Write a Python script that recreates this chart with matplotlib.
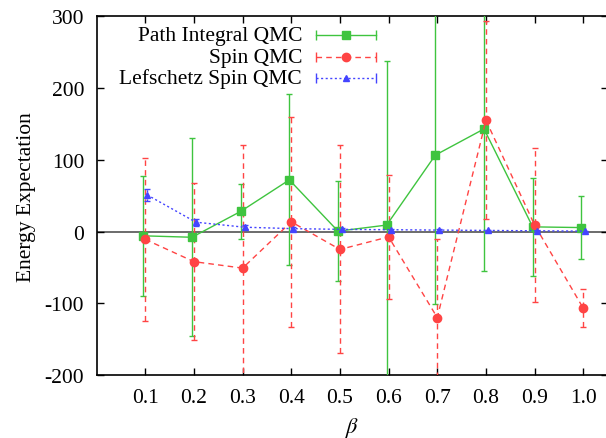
import matplotlib
matplotlib.use('Agg')
import matplotlib.pyplot as plt
from matplotlib.lines import Line2D

plt.rcParams['font.family'] = 'serif'
plt.rcParams['font.serif'] = ['Liberation Serif', 'DejaVu Serif']
plt.rcParams['mathtext.fontset'] = 'stix'
plt.rcParams['axes.unicode_minus'] = False

beta = [0.1, 0.2, 0.3, 0.4, 0.5, 0.6, 0.7, 0.8, 0.9, 1.0]

path_val = [-6, -8, 28, 72, 0.5, 9, 106.5, 143, 6.5, 5.5]
path_err = [84, 138, 38, 119, 70, 229, 207.5, 198, 68, 44]

spin_val = [-11, -42, -51, 13.5, -25, -7.5, -120, 155, 9, -107]
spin_err = [114, 109, 172, 146, 145, 86, 110, 138, 107, 26.5]

lef_val = [51, 13, 6, 4, 3, 2.5, 2, 1.5, 1, 0.5]
lef_err = [8, 5, 3, 2, 1.5, 1.2, 1, 1, 0.8, 0.5]

labels = ['Path Integral QMC', 'Spin QMC', 'Lefschetz Spin QMC']
green = '#3fc43f'
red = '#ff4444'
blue = '#4444ff'

fig = plt.figure(figsize=(6.06, 4.39), dpi=100)
ax = fig.add_axes([0.1594, 0.1435, 0.8433, 0.8171])

ax.axhline(0, color='#606060', lw=1.3, zorder=1)

series = [
    (path_val, path_err, -0.004, green, 's', 5.5, None),
    (spin_val, spin_err, 0.0, red, 'o', 6, (4, 3)),
    (lef_val, lef_err, 0.004, blue, '^', 5, (1.5, 1.8)),
]

for vals, errs, dx, col, mk, ms, dash in series:
    xs = [b + dx for b in beta]
    line, caps, bars = ax.errorbar(xs, vals, yerr=errs, color=col, marker=mk,
                                   ms=ms, lw=1, elinewidth=1, capsize=2.5,
                                   capthick=1, zorder=3)
    if dash is not None:
        line.set_dashes(dash)
        for b in bars:
            b.set_linestyle((0, dash))

# gnuplot style key: right-aligned text, horizontal sample with end caps
key_y = [0.947, 0.886, 0.827]
x0, x1, xm = 0.429, 0.546, 0.488
for (vals, errs, dx, col, mk, ms, dash), lab, ky in zip(series, labels, key_y):
    ax.text(0.402, ky, lab, transform=ax.transAxes, ha='right', va='center',
            fontsize=15.5)
    ln = Line2D([x0, x1], [ky, ky], transform=ax.transAxes, color=col, lw=1)
    if dash is not None:
        ln.set_dashes(dash)
    ax.add_line(ln)
    ax.add_line(Line2D([x0, x1], [ky, ky], transform=ax.transAxes,
                       color=col, lw=0, marker='|', ms=7, mew=1))
    ax.add_line(Line2D([xm], [ky], transform=ax.transAxes, color=col, lw=0,
                       marker=mk, ms=ms))

ax.set_xlim(0, 1.05)
ax.set_ylim(-200, 300)
ax.set_xticks(beta)
ax.set_xticklabels(['%.1f' % b for b in beta])
ax.set_yticks([-200, -100, 0, 100, 200, 300])

ax.tick_params(direction='in', length=5, width=1, top=True, right=True,
               labelsize=15.5, pad=9)
for sp in ax.spines.values():
    sp.set_linewidth(1.2)

ax.set_xlabel(r'$\beta$', fontsize=16, labelpad=6)
ax.set_ylabel('Energy Expectation', fontsize=15.5, labelpad=6)

fig.savefig('out.png', dpi=100)
